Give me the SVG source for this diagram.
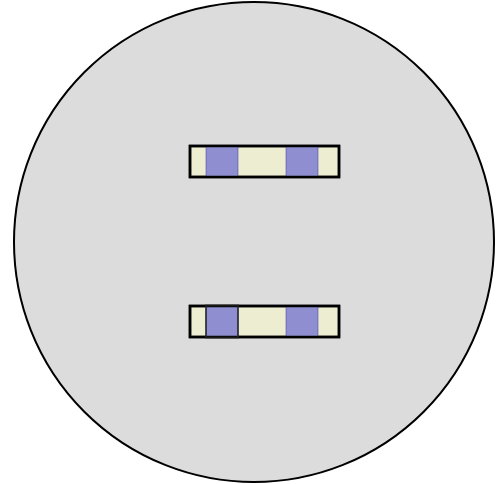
<svg xmlns="http://www.w3.org/2000/svg" width="496" height="484" viewBox="0 0 496 484">
<style>
.bar{fill:#ededd2;stroke:#000;stroke-width:2.5}
.band{fill:#8e8ed0;stroke:#3a3aa0;stroke-width:1;stroke-opacity:0.5}
.edge{fill:none;stroke:#000;stroke-width:2.5}
</style>
<g id="disk"><circle cx="254" cy="242" r="240" fill="#dcdcdc" stroke="#000" stroke-width="2"/></g>
<g id="bar1">
<rect class="bar" x="190" y="146" width="149" height="31"/>
<rect class="band" x="206" y="146.5" width="32" height="30"/>
<rect class="band" x="286" y="146.5" width="32" height="30"/>
<rect class="edge" x="190" y="146" width="149" height="31"/>
</g>
<g id="bar2">
<rect class="bar" x="190" y="306" width="149" height="31"/>
<rect class="band" x="206" y="306.5" width="32" height="30"/>
<rect class="band" x="286" y="306.5" width="32" height="30"/>
<rect class="edge" x="190" y="306" width="149" height="31"/>
<rect x="206" y="305.5" width="32" height="32" fill="none" stroke="#222" stroke-opacity="0.75" stroke-width="2"/>
</g>
<g id="connectors"/>
</svg>
